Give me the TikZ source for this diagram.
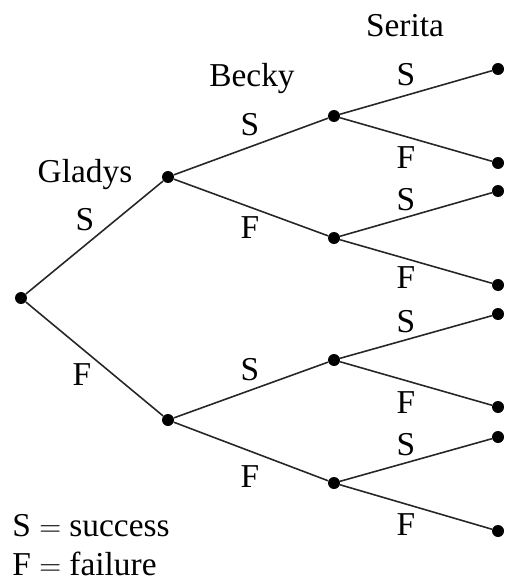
\documentclass[tikz,border=0pt]{standalone}
\usepackage{fontspec}
\setmainfont{Liberation Serif}
\usetikzlibrary{positioning}
\begin{document}
\begin{tikzpicture}[
        x=0.02cm,
        y=-0.02cm,
        branch/.style={line width=0.9pt, draw=black!85},
        dot/.style={circle, fill=black, inner sep=0pt, minimum size=0.24cm},
        lbl/.style={font=\fontsize{19}{22}\selectfont, inner sep=0pt}
    ]
        \useasboundingbox (0,0) rectangle (506,581);

        % tree nodes
        \node[dot] (r) at (21,298) {};
        \node[dot] (s) at (168,177) {};
        \node[dot] (f) at (168,420) {};
        \node[dot] (ss) at (334,116) {};
        \node[dot] (sf) at (334,238) {};
        \node[dot] (fs) at (334,360) {};
        \node[dot] (ff) at (334,483) {};
        \node[dot] (sss) at (498,69) {};
        \node[dot] (ssf) at (498,163) {};
        \node[dot] (sfs) at (498,191) {};
        \node[dot] (sff) at (498,285) {};
        \node[dot] (fss) at (498,314) {};
        \node[dot] (fsf) at (498,407) {};
        \node[dot] (ffs) at (498,437) {};
        \node[dot] (fff) at (498,531) {};

        \foreach \p/\c in {r/s, r/f, s/ss, s/sf, f/fs, f/ff,
                ss/sss, ss/ssf, sf/sfs, sf/sff, fs/fss, fs/fsf, ff/ffs, ff/fff}
            \draw[branch] (\p) -- (\c);

        % stage names
        \node[lbl, anchor=base] (gladys) at (85,182) {Gladys};
        \node[lbl, anchor=base] (becky) at (252,87) {Becky};
        \node[lbl, anchor=base] (serita) at (405,37) {Serita};

        % branch labels
        \node[lbl] (l1s) at (85,220) {S};
        \node[lbl] (l1f) at (82,375) {F};
        \node[lbl] (l2a) at (250,125) {S};
        \node[lbl] (l2b) at (250,228) {F};
        \node[lbl] (l2c) at (250,370) {S};
        \node[lbl] (l2d) at (250,477) {F};
        \foreach \y/\t [count=\i] in {75/S, 158/F, 200/S, 278/F, 322/S, 403/F, 445/S, 525/F}
            \node[lbl] (l3\i) at (406,\y) {\t};

        % key
        \node[lbl, anchor=base west] (keys) at (12,536) {S $=$ success};
        \node[lbl, anchor=base west] (keyf) at (12,575) {F $=$ failure};
    \end{tikzpicture}
\end{document}
